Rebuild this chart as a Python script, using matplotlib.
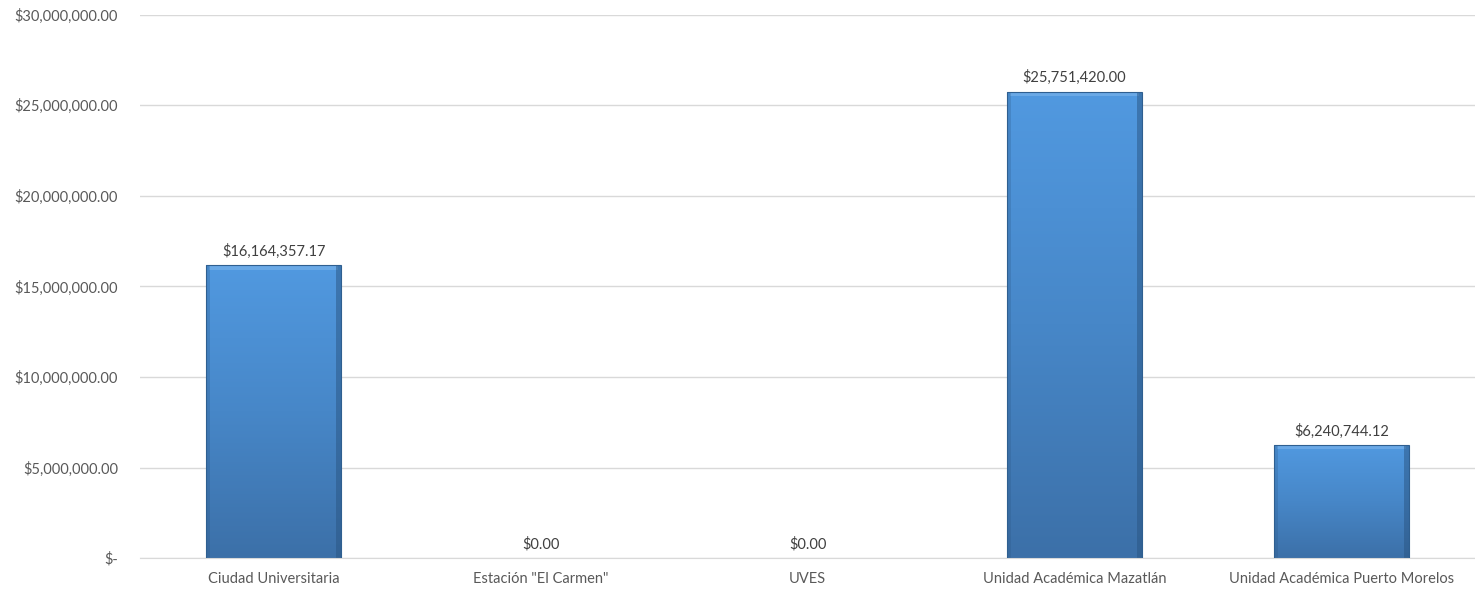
import matplotlib.pyplot as plt
import numpy as np
from matplotlib.colors import LinearSegmentedColormap

categorias = ['Ciudad Universitaria', 'Estación "El Carmen"', 'UVES',
              'Unidad Académica Mazatlán', 'Unidad Académica Puerto Morelos']
montos = [16164357.17, 0.0, 0.0, 25751420.00, 6240744.12]
ticks_y = [0, 5e6, 10e6, 15e6, 20e6, 25e6, 30e6]

plt.rcParams['font.family'] = ['Lato', 'DejaVu Sans']
gris = '#595959'

def formato(v):
    if v == 0:
        return '$-'
    return f'${v:,.2f}'

fig = plt.figure(figsize=(14.75, 5.9), dpi=100)
ax = fig.add_axes([0.095, 0.054, 0.905, 0.921])

x = np.arange(len(categorias))
ax.set_xlim(-0.5, len(categorias) - 0.5)
ax.set_ylim(0, 30e6)

# degradado vertical de las barras
cmap = LinearSegmentedColormap.from_list('azul', ['#3C70A8', '#4787C8', '#5199E0'])
grad = np.linspace(0, 1, 256).reshape(-1, 1)

bordes = ['#2F5F90' if v > 0 else 'none' for v in montos]
barras = ax.bar(x, montos, width=0.505, color='none', edgecolor=bordes,
                linewidth=0.8, zorder=3)
for b, v in zip(barras, montos):
    if v <= 0:
        continue
    x0, w, h = b.get_x(), b.get_width(), b.get_height()
    im = ax.imshow(grad, cmap=cmap, aspect='auto', origin='lower',
                   extent=[x0, x0 + w, 0, h], zorder=2)
    im.set_clip_path(b)
    # bisel superior claro
    ax.fill_between([x0 + w * 0.02, x0 + w * 0.98], h - 0.008 * 30e6, h,
                    color='#7DB5EC', alpha=0.6, zorder=2.5, linewidth=0)
    # sombra lateral
    ax.fill_between([x0 + w * 0.96, x0 + w], 0, h, color='#2A5582', alpha=0.5,
                    zorder=2.5, linewidth=0)
    ax.fill_between([x0, x0 + w * 0.03], 0, h, color='#2A5582', alpha=0.25,
                    zorder=2.5, linewidth=0)

for xi, v in zip(x, montos):
    ax.text(xi, v + 0.012 * 30e6, f'${v:,.2f}', ha='center', va='bottom',
            fontsize=10.5, color='#404040')

ax.set_yticks(ticks_y)
ax.set_yticklabels([formato(t) for t in ticks_y])
ax.set_xticks(x)
ax.set_xticklabels(categorias)
ax.tick_params(axis='both', length=0, labelsize=10.5, labelcolor=gris)
ax.tick_params(axis='y', pad=16)
ax.tick_params(axis='x', pad=10)
ax.grid(axis='y', color='#D9D9D9', linewidth=1, zorder=0)
for s in ['top', 'right', 'left']:
    ax.spines[s].set_visible(False)
ax.spines['bottom'].set_color('#D9D9D9')

fig.savefig('out.png', dpi=100, facecolor='white')
